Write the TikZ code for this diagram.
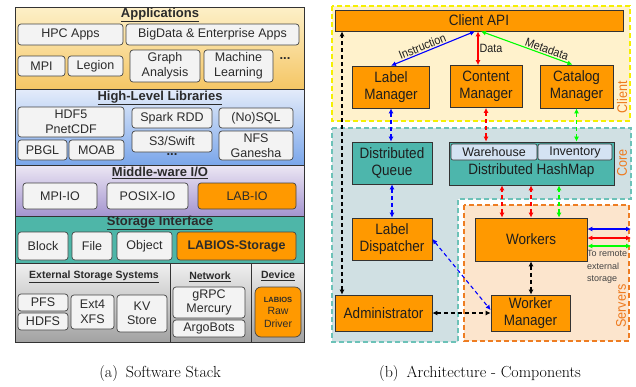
\documentclass[tikz,border=0pt]{standalone}
\usepackage{fontspec}
\newfontfamily\stackfont{Liberation Sans}
\newfontfamily\archfont[FakeStretch=0.9]{Liberation Sans}
\usetikzlibrary{arrows.meta}

\definecolor{labiosorange}{HTML}{FF9900}
\definecolor{boxfill}{HTML}{F3F3F3}
\definecolor{boxline}{HTML}{444444}
\definecolor{frameline}{HTML}{333333}
\definecolor{stacktext}{HTML}{2B2B2B}
\definecolor{appstop}{HTML}{FDF0C8}
\definecolor{appsbot}{HTML}{F5C665}
\definecolor{libtop}{HTML}{E4ECFA}
\definecolor{libbot}{HTML}{7AA6EA}
\definecolor{miotop}{HTML}{ECE7F4}
\definecolor{miobot}{HTML}{A494CF}
\definecolor{sifill}{HTML}{4EB6A8}
\definecolor{exttop}{HTML}{F0F0F0}
\definecolor{extbot}{HTML}{A2A2A2}
\definecolor{compline}{HTML}{333333}
\definecolor{comptext}{HTML}{1E1E1E}
\definecolor{tealfill}{HTML}{4DB6AC}
\definecolor{cellfill}{HTML}{D4E3F3}
\definecolor{clientfill}{HTML}{FFF2CC}
\definecolor{clientline}{HTML}{F5F000}
\definecolor{corefill}{HTML}{D0E0E3}
\definecolor{coreline}{HTML}{6CC2B8}
\definecolor{serversfill}{HTML}{FCE5CD}
\definecolor{serversline}{HTML}{EE7D22}
\definecolor{regionorange}{HTML}{EE7A1E}
\definecolor{notegray}{HTML}{444444}

\begin{document}
\begin{tikzpicture}[x=1pt, y=-1pt,
		stackbox/.style={draw=boxline, fill=boxfill, rounded corners=3pt, line width=0.7pt, inner sep=0pt, align=center, text=stacktext, font=\stackfont\fontsize{12.5}{14.5}\selectfont},
		labiosbox/.style={stackbox, fill=labiosorange},
		bandtitle/.style={text=stacktext, inner sep=0pt, font=\stackfont\bfseries\fontsize{13}{14}\selectfont},
		subtitle/.style={text=stacktext, inner sep=0pt, font=\stackfont\bfseries\fontsize{10.5}{12}\selectfont},
		band/.style={draw=frameline, line width=0.7pt},
		component/.style={draw=compline, fill=labiosorange, line width=0.7pt, inner sep=0pt, align=center, text=comptext, font=\archfont\fontsize{15}{17}\selectfont},
		tealcomp/.style={component, fill=tealfill},
		cell/.style={draw=compline, fill=cellfill, rounded corners=2pt, line width=0.6pt, inner sep=0pt, text=comptext, font=\stackfont\fontsize{12.5}{13}\selectfont},
		region/.style={line width=1.1pt, dash pattern=on 5pt off 3pt},
		regionlabel/.style={rotate=90, inner sep=0pt, text=regionorange, font=\archfont\fontsize{14}{16}\selectfont},
		flow/.style={line width=1.1pt, {Latex[length=5pt,width=5pt]}-{Latex[length=5pt,width=5pt]}},
		dflow/.style={flow, dash pattern=on 4pt off 3pt},
		flowlabel/.style={inner sep=1pt, text=comptext, font=\archfont\fontsize{12}{13}\selectfont},
		caption/.style={inner sep=0pt, font=\fontsize{16}{18}\selectfont},
	]
	\useasboundingbox (0,0) rectangle (636,386);

	\shade[top color=appstop, bottom color=appsbot] (15,7) rectangle (304,89);
	\shade[top color=libtop, bottom color=libbot] (15,89) rectangle (304,165);
	\shade[top color=miotop, bottom color=miobot] (15,165) rectangle (304,216);
	\fill[sifill] (15,216) rectangle (304,263);
	\shade[top color=exttop, bottom color=extbot] (15,263) rectangle (304,342);
	\draw[band] (15,7) rectangle (304,342);
	\draw[band] (15,89) -- (304,89) (15,165) -- (304,165) (15,216) -- (304,216) (15,263) -- (304,263);
	\draw[band] (170,263) -- (170,342) (251,263) -- (251,342);

	\node[bandtitle] (apptitle) at (160,15) {\underline{Applications}};
	\node[stackbox, minimum width=105, minimum height=21] (hpc) at (70.5,34.5) {HPC Apps};
	\node[stackbox, minimum width=173, minimum height=21] (bigdata) at (212.5,34.5) {BigData \& Enterprise Apps};
	\node[stackbox, minimum width=47, minimum height=20] (mpi) at (41.5,66) {MPI};
	\node[stackbox, minimum width=55, minimum height=20] (legion) at (95.5,66) {Legion};
	\node[stackbox, minimum width=70, minimum height=32] (graph) at (165,66) {Graph\\Analysis};
	\node[stackbox, minimum width=69, minimum height=32] (learning) at (238.5,66) {Machine\\Learning};
	\node[bandtitle] (appmore) at (285,59) {...};

	\node[bandtitle] (libtitle) at (160,98) {\underline{High-Level Libraries}};
	\node[stackbox, minimum width=106, minimum height=30] (hdf) at (71,122) {HDF5\\PnetCDF};
	\node[stackbox, minimum width=49, minimum height=20] (pbgl) at (42.5,150) {PBGL};
	\node[stackbox, minimum width=55, minimum height=20] (moab) at (96.5,150) {MOAB};
	\node[stackbox, minimum width=80, minimum height=20] (spark) at (172,118) {Spark RDD};
	\node[stackbox, minimum width=80, minimum height=21] (swift) at (172,141.5) {S3/Swift};
	\node[bandtitle] (libmore) at (172,155) {...};
	\node[stackbox, minimum width=74, minimum height=20] (nosql) at (256,118) {(No)SQL};
	\node[stackbox, minimum width=74, minimum height=29] (nfs) at (256,145.5) {NFS\\Ganesha};

	\node[bandtitle] (miotitle) at (160,173) {\underline{Middle-ware I/O}};
	\node[stackbox, minimum width=74, minimum height=26] (mpiio) at (60,196) {MPI-IO};
	\node[stackbox, minimum width=81, minimum height=26] (posixio) at (147.5,196) {POSIX-IO};
	\node[labiosbox, minimum width=98, minimum height=26] (labio) at (247,196) {LAB-IO};

	\node[bandtitle] (sititle) at (160,223) {\underline{Storage Interface}};
	\node[stackbox, minimum width=50, minimum height=28] (block) at (43,246) {Block};
	\node[stackbox, minimum width=40, minimum height=28] (file) at (92,246) {File};
	\node[stackbox, minimum width=55, minimum height=28] (object) at (144.5,246) {Object};
	\node[labiosbox, minimum width=119, minimum height=28, font=\stackfont\bfseries\fontsize{12.5}{14}\selectfont] (labstore) at (236.5,246) {LABIOS-Storage};

	\node[subtitle] (exttitle) at (94,277) {\underline{External Storage Systems}};
	\node[stackbox, minimum width=50, minimum height=17] (pfs) at (43,302.5) {PFS};
	\node[stackbox, minimum width=50, minimum height=17] (hdfs) at (43,321.5) {HDFS};
	\node[stackbox, minimum width=43, minimum height=34] (ext) at (92.5,312) {Ext4\\XFS};
	\node[stackbox, minimum width=50, minimum height=37] (kv) at (142,313.5) {KV\\Store};
	\node[subtitle] (nettitle) at (210,277) {\underline{Network}};
	\node[stackbox, minimum width=72, minimum height=31] (grpc) at (209,302.5) {gRPC\\Mercury};
	\node[stackbox, minimum width=72, minimum height=17] (argo) at (209,328.5) {ArgoBots};
	\node[subtitle] (devtitle) at (278,276) {\underline{Device}};
	\node[labiosbox, rounded corners=6pt, minimum width=46, minimum height=50, font=\stackfont\fontsize{10.5}{12.5}\selectfont] (rawdrv) at (278,312) {{\bfseries\fontsize{7.5}{9}\selectfont LABIOS}\\Raw\\Driver};

	\fill[clientfill] (332,6) rectangle (630,121);
	\draw[region, clientline] (332,6) rectangle (630,121);
	\fill[corefill] (332,128) -- (631,128) -- (631,199) -- (458,199) -- (458,342) -- (332,342) -- cycle;
	\draw[region, coreline] (332,128) -- (631,128) -- (631,199) -- (458,199) -- (458,342) -- (332,342) -- cycle;
	\fill[serversfill] (464,205) rectangle (629,341);
	\draw[region, serversline] (464,205) rectangle (629,341);

	\node[regionlabel] (clientlbl) at (622,97) {Client};
	\node[regionlabel] (corelbl) at (622,163) {Core};
	\node[regionlabel] (serverslbl) at (621,306) {Servers};

	\node[component, minimum width=288, minimum height=21] (api) at (479,20.5) {Client API};
	\node[component, minimum width=77, minimum height=42] (lblmgr) at (391,87) {Label\\Manager};
	\node[component, minimum width=72, minimum height=42] (cntmgr) at (486,86.5) {Content\\Manager};
	\node[component, minimum width=73, minimum height=43] (catmgr) at (576.5,86.5) {Catalog\\Manager};

	\node[tealcomp, minimum width=80, minimum height=42] (dqueue) at (392,163) {Distributed\\Queue};
	\node[tealcomp, minimum width=165, minimum height=43] (hashmap) at (531.5,163.5) {};
	\node[cell, minimum width=86, minimum height=16] (warehouse) at (494,152) {Warehouse};
	\node[cell, minimum width=74, minimum height=16] (inventory) at (575,152) {Inventory};
	\node[inner sep=0pt, text=comptext, font=\archfont\fontsize{15}{17}\selectfont] (hmlabel) at (531.5,171) {Distributed HashMap};

	\node[component, minimum width=80, minimum height=42] (lbldisp) at (392,239) {Label\\Dispatcher};
	\node[component, minimum width=97, minimum height=36] (admin) at (383.5,313) {Administrator};
	\node[component, minimum width=112, minimum height=43] (workers) at (531,239.5) {Workers};
	\node[component, minimum width=79, minimum height=36] (wrkmgr) at (530.5,313) {Worker\\Manager};

	\node[anchor=west, align=left, inner sep=0pt, text=notegray, font=\stackfont\fontsize{9}{12.5}\selectfont] (remotenote) at (587,267) {To remote\\external\\storage};
	\coordinate (rblue) at (631,229);
	\coordinate (rred) at (631,238);
	\coordinate (rgreen) at (631,246);

	\draw[flow, blue] (lblmgr.north) -- ([xshift=-4pt]api.south) node[flowlabel, pos=0.4, above, sloped] (instrlbl) {Instruction};
	\draw[flow, red] ([xshift=-1pt]api.south) -- ([xshift=-1pt]api.south |- cntmgr.north) node[flowlabel, midway, right] (datalbl) {Data};
	\draw[flow, green] ([xshift=2pt]api.south) -- ([xshift=-4pt]catmgr.north) node[flowlabel, pos=0.7, above, sloped] (metalbl) {Metadata};

	\draw[dflow, blue] (lblmgr.south) -- (lblmgr.south |- dqueue.north);
	\draw[dflow, red] (cntmgr.south) -- (cntmgr.south |- hashmap.north);
	\draw[dflow, green] (catmgr.south) -- (catmgr.south |- hashmap.north);
	\draw[dflow, blue] (dqueue.south) -- (dqueue.south |- lbldisp.north);
	\draw[dflow, red] ([xshift=-29pt]workers.north) -- ([xshift=-29pt]workers.north |- hashmap.south);
	\draw[dflow, red] (workers.north) -- (workers.north |- hashmap.south);
	\draw[dflow, green] ([xshift=28pt]workers.north) -- ([xshift=28pt]workers.north |- hashmap.south);
	\draw[dflow, blue] (lbldisp.east) -- ([yshift=3pt]wrkmgr.west);
	\draw[dflow, black] (workers.south) -- (workers.south |- wrkmgr.north);
	\draw[dflow, black] (admin.east) -- (wrkmgr.west);
	\draw[dflow, black] ([xshift=-41.5pt]admin.north) -- ([xshift=-41.5pt]admin.north |- api.south);

	\draw[flow, blue] (workers.east |- rblue) -- (rblue);
	\draw[flow, red] (workers.east |- rred) -- (rred);
	\draw[flow, green] (workers.east |- rgreen) -- (rgreen);

	\node[caption] (capa) at (160,373) {(a)\enspace Software Stack};
	\node[caption] (capb) at (480,373) {(b)\enspace Architecture - Components};
\end{tikzpicture}
\end{document}
